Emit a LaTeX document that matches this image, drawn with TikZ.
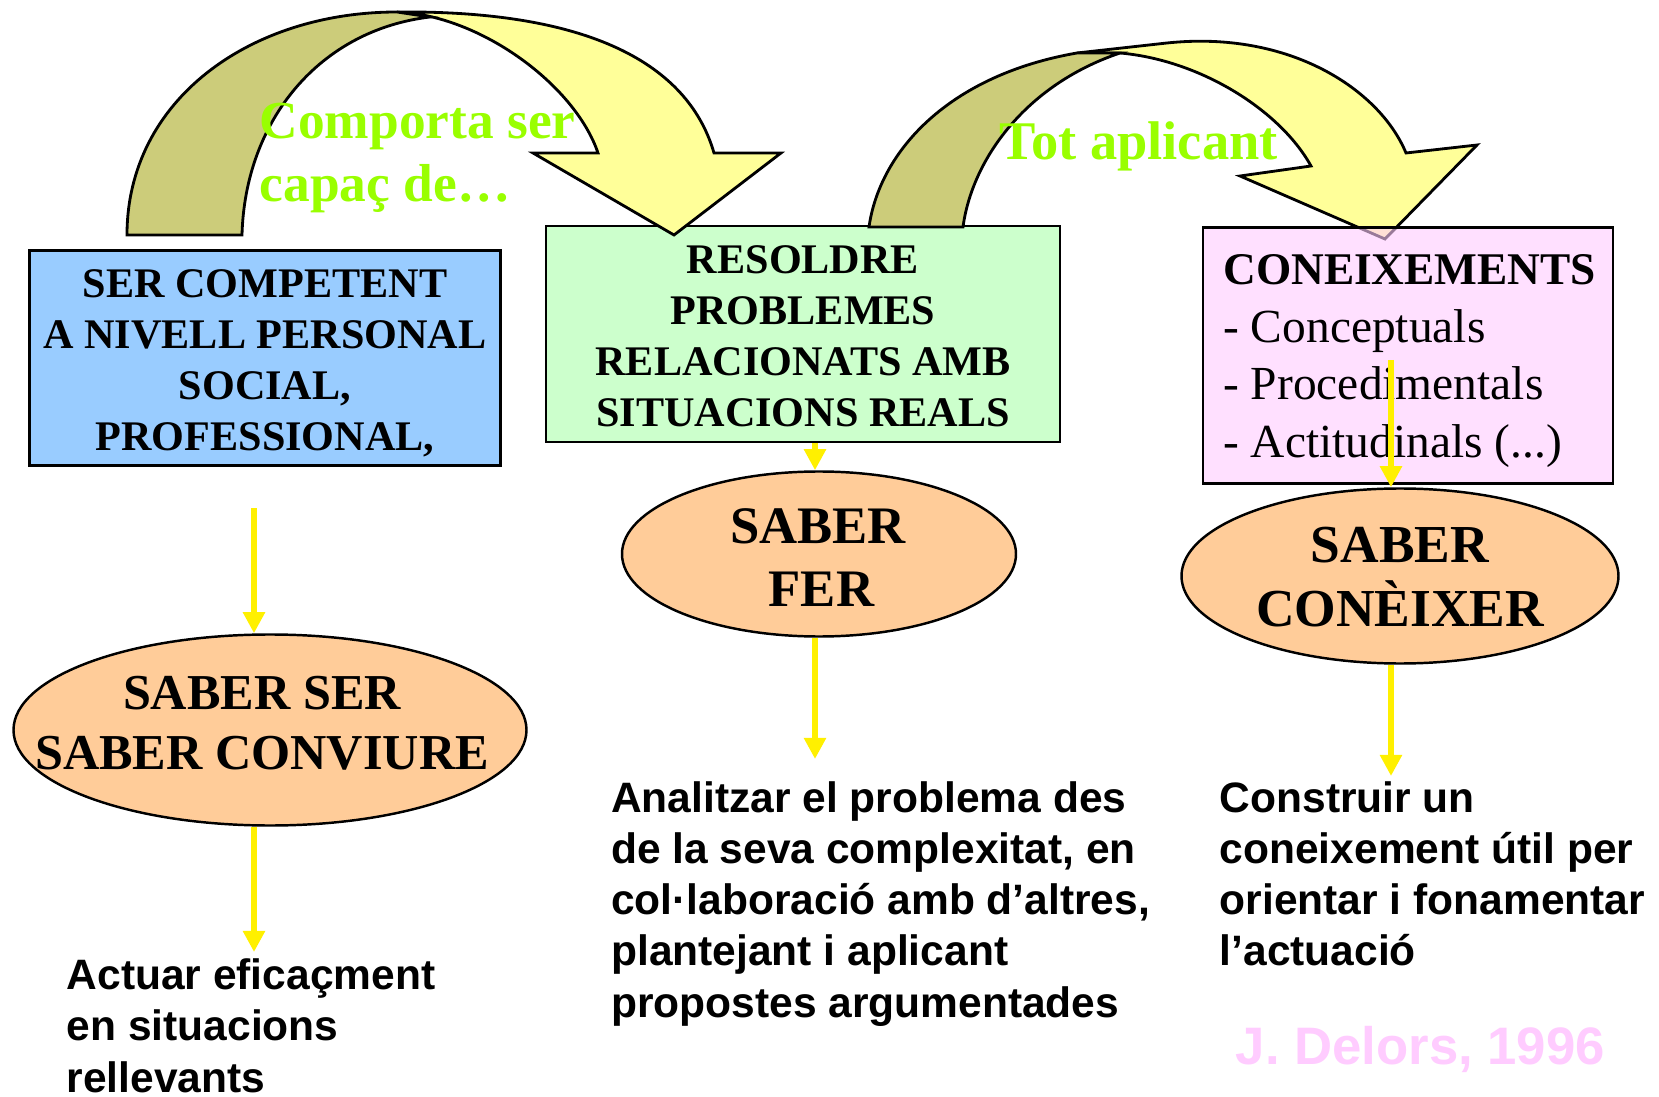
\documentclass[tikz,border=0pt]{standalone}
\usepackage{fontspec}
\setmainfont{Liberation Serif}
\setsansfont{Liberation Sans}
\usetikzlibrary{shapes.geometric,arrows.meta}
\definecolor{dlblue}{HTML}{99CCFF}
\definecolor{dlgreen}{HTML}{CCFFCC}
\definecolor{dlpink}{HTML}{FFCCFF}
\definecolor{dlorange}{HTML}{FFCC99}
\definecolor{dlyellow}{HTML}{FFFF99}
\definecolor{dlolive}{HTML}{CCCC7A}
\definecolor{dlarrow}{HTML}{FFF000}
\definecolor{dllabel}{HTML}{99FF00}
\definecolor{dlsign}{HTML}{FFCCFF}

\begin{document}
\begin{tikzpicture}[
    box/.style={rectangle, draw=black, line width=0.8pt, inner sep=0pt},
    boxtext/.style={align=center, inner sep=0pt, font=\bfseries\fontsize{12}{14.5}\selectfont},
    saber/.style={ellipse, draw=black, fill=dlorange, line width=0.7pt, inner sep=0pt},
    sabertext/.style={align=center, inner sep=0pt, font=\bfseries\fontsize{15}{18}\selectfont},
    band/.style={draw=black, line width=0.8pt},
    down/.style={draw=dlarrow, line width=1.7pt, -{Triangle[width=6pt,length=6pt]}},
    note/.style={anchor=north west, align=left, inner sep=0pt, font=\sffamily\bfseries\fontsize{12.1}{14.6}\selectfont},
    greentext/.style={text=dllabel, align=left, inner sep=0pt, font=\bfseries\fontsize{15.2}{18}\selectfont}]
            \path[use as bounding box, fill=white] (0,0) rectangle (16.59,-10.97);

            % Top boxes
            \node[box, fill=dlblue, minimum width=4.71cm, minimum height=2.15cm] (ser) at (2.65,-3.58) {};
            \node[boxtext] (sertxt) at ([yshift=-0.05cm]ser.center)
                {SER COMPETENT\\A NIVELL PERSONAL\\SOCIAL,\\PROFESSIONAL,};
            \node[box, fill=dlgreen, minimum width=5.14cm, minimum height=2.16cm] (resol) at (8.03,-3.34) {};
            \node[boxtext] (resoltxt) at ([yshift=-0.025cm]resol.center)
                {RESOLDRE\\PROBLEMES\\RELACIONATS AMB\\SITUACIONS REALS};

            % Curved arrow 1
            \path[band, fill=dlyellow] (3.97,-0.12) .. controls (6.00,-0.10) and (6.90,-0.70) .. (7.14,-1.53)
                -- (7.81,-1.53) -- (6.74,-2.35) -- (5.33,-1.53) -- (5.98,-1.53)
                .. controls (5.75,-0.85) and (4.80,-0.15) .. (3.97,-0.12) -- cycle;
            \path[band, fill=dlolive] (1.27,-2.35) .. controls (1.27,-1.00) and (2.50,-0.12) .. (3.97,-0.12)
                -- (4.30,-0.17) .. controls (3.20,-0.30) and (2.45,-1.20) .. (2.42,-2.35) -- cycle;

            % Curved arrow 2
            \path[band, fill=dlyellow] (10.77,-0.53) -- (11.67,-0.43) .. controls (12.90,-0.30) and (13.80,-0.90) .. (14.06,-1.53)
                -- (14.77,-1.45) -- (13.85,-2.39) -- (12.40,-1.76) -- (13.11,-1.66)
                .. controls (12.80,-1.10) and (12.00,-0.60) .. (11.20,-0.53) -- cycle;
            \path[band, fill=dlolive] (8.69,-2.27) .. controls (8.80,-1.50) and (9.50,-0.75) .. (10.77,-0.53)
                -- (11.20,-0.53) .. controls (10.25,-0.85) and (9.72,-1.60) .. (9.63,-2.27) -- cycle;

            \node[greentext, anchor=north west] (comporta) at (2.59,-1.02) {Comporta ser\\capaç de…};
            \node[greentext, anchor=base west, font=\bfseries\fontsize{15.5}{18}\selectfont] (aplicant) at (9.99,-1.60) {Tot aplicant};

            % Knowledge box
            \node[box, fill=dlpink, fill opacity=0.6, minimum width=4.10cm, minimum height=2.56cm] (conei) at (14.08,-3.555) {};
            \node[anchor=west, align=left, inner sep=0pt, font=\fontsize{13.5}{16.4}\selectfont] (coneitxt)
                at ([xshift=0.21cm, yshift=-0.055cm]conei.west)
                {{\bfseries\fontsize{12.9}{16.4}\selectfont CONEIXEMENTS}\\- Conceptuals\\- Procedimentals\\- Actitudinals (...)};

            % Ellipses
            \node[saber, minimum width=5.13cm, minimum height=1.91cm] (sabser) at (2.70,-7.30) {};
            \node[sabertext, font=\bfseries\fontsize{14.3}{17.1}\selectfont] (sabsertxt) at (2.62,-7.23)
                {SABER SER\\SABER CONVIURE};
            \node[saber, minimum width=3.94cm, minimum height=1.65cm] (saberfer) at (8.19,-5.54) {};
            \node[sabertext] (saberfertxt) at (8.18,-5.575) {SABER\\\hspace*{0.07cm}FER};
            \node[saber, minimum width=4.37cm, minimum height=1.75cm] (sabercon) at (14.00,-5.76) {};
            \node[sabertext, font=\bfseries\fontsize{15.2}{18}\selectfont] (sabercontxt) at (14.00,-5.77) {SABER\\CONÈIXER};

            % Yellow arrows
            \coordinate (a1) at (2.54,-5.08);
            \coordinate (a2) at (2.54,-9.52);
            \coordinate (a4) at (8.15,-7.59);
            \coordinate (a5) at (13.91,-3.60);
            \coordinate (a6) at (13.91,-7.76);
            \draw[down] (a1) -- (a1 |- sabser.north);
            \draw[down] (a1 |- sabser.south) -- (a2);
            \draw[down] (a4 |- resol.south) -- (a4 |- saberfer.north);
            \draw[down] (a4 |- saberfer.south) -- (a4);
            \draw[down] (a5) -- (a5 |- sabercon.north);
            \draw[down] (a5 |- sabercon.south) -- (a6);

            % Bottom texts
            \node[note] (actuar) at (0.66,-9.58) {Actuar eficaçment\\en situacions\\rellevants};
            \node[note] (analitzar) at (6.105,-7.805)
                {Analitzar el problema des\\de la seva complexitat, en\\col·laboració amb d’altres,\\plantejant i aplicant\\propostes argumentades};
            \node[note] (construir) at (12.19,-7.805)
                {Construir un\\coneixement útil per\\orientar i fonamentar\\l’actuació};
            \node[anchor=base west, inner sep=0pt, text=dlsign, font=\sffamily\bfseries\fontsize{15}{18}\selectfont] (delors) at (12.35,-10.64)
                {J. Delors, 1996};
        \end{tikzpicture}
\end{document}
